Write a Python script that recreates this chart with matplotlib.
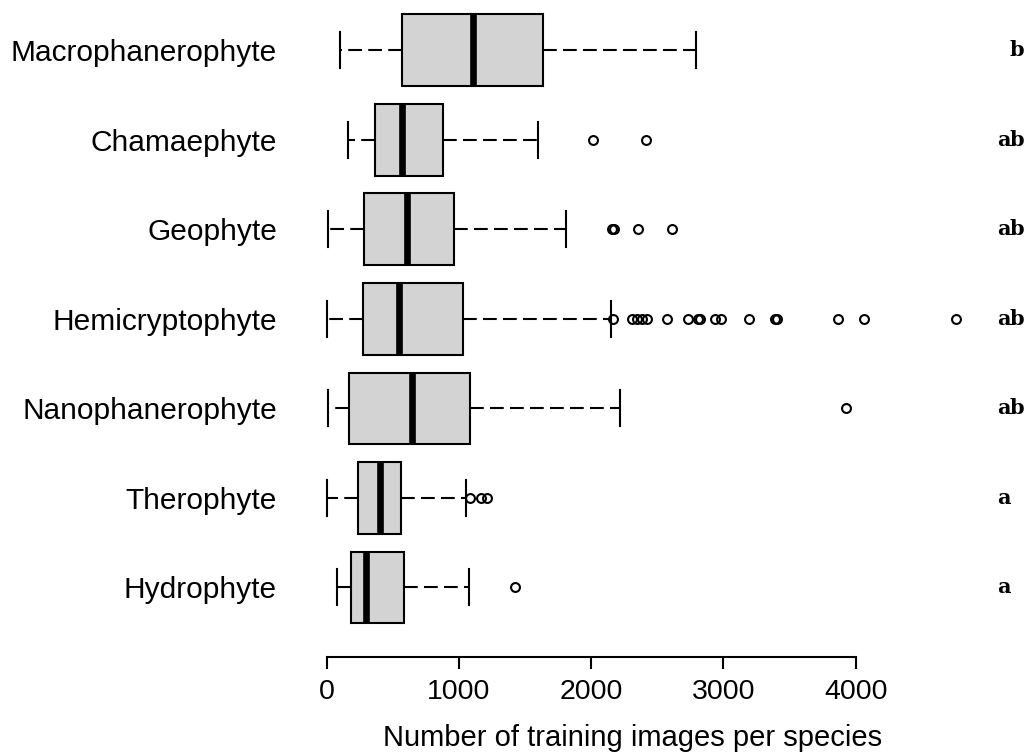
import matplotlib
matplotlib.use("Agg")
import matplotlib.pyplot as plt
import matplotlib.transforms as mtransforms

# Summary statistics per life form
CATEGORIES = ["Macrophanerophyte", "Chamaephyte", "Geophyte", "Hemicryptophyte",
              "Nanophanerophyte", "Therophyte", "Hydrophyte"]
WHISLO = [101, 159, 10, 2, 10, 2, 76]
Q1 = [567, 367, 284, 272, 171, 234, 184]
MEDIAN = [1104, 567, 607, 544, 643, 405, 295]
Q3 = [1633, 877, 965, 1031, 1084, 564, 587]
WHISHI = [2790, 1598, 1812, 2152, 2218, 1051, 1076]

FLIERS_MACRO = []
FLIERS_CHAMAE = [2011, 2412]
FLIERS_GEO = [2155, 2170, 2354, 2613]
FLIERS_HEMI = [2163, 2306, 2344, 2382, 2420, 2575, 2730, 2805, 2825, 2936, 2981,
               3193, 3390, 3405, 3864, 4066, 4762]
FLIERS_NANO = [3927]
FLIERS_THERO = [1084, 1167, 1210]
FLIERS_HYDRO = [1426]
FLIERS = [FLIERS_MACRO, FLIERS_CHAMAE, FLIERS_GEO, FLIERS_HEMI,
          FLIERS_NANO, FLIERS_THERO, FLIERS_HYDRO]

# significance groups (compact letter display)
LETTERS = ["b", "ab", "ab", "ab", "ab", "a", "a"]
XTICKS = [0, 1000, 2000, 3000, 4000]
XLABEL = "Number of training images per species"

W, H, DPI = 1032, 756, 100
LW = 1.5

plt.rcParams["font.family"] = ["Liberation Sans", "DejaVu Sans"]

fig = plt.figure(figsize=(W / DPI, H / DPI), dpi=DPI)
ax_left, ax_bottom_px = 300, 656.7
ax = fig.add_axes([ax_left / W, (H - ax_bottom_px) / H, (W - ax_left) / W, ax_bottom_px / H])

n = len(CATEGORIES)
positions = list(range(n, 0, -1))

stats = []
for i, name in enumerate(CATEGORIES):
    stats.append(dict(label=name, whislo=WHISLO[i], q1=Q1[i], med=MEDIAN[i],
                      q3=Q3[i], whishi=WHISHI[i], fliers=FLIERS[i]))

ax.bxp(stats, positions=positions, widths=0.8, capwidths=0.4,
       orientation="horizontal", patch_artist=True, showfliers=True,
       boxprops=dict(facecolor="#d3d3d3", edgecolor="black", linewidth=LW),
       whiskerprops=dict(color="black", linewidth=LW, linestyle=(0, (6.6, 3.0))),
       capprops=dict(color="black", linewidth=LW),
       medianprops=dict(color="black", linewidth=4.8, solid_capstyle="butt"),
       flierprops=dict(marker="o", markerfacecolor="none", markeredgecolor="black",
                       markersize=6.4, markeredgewidth=LW, linestyle="none"))

x_per_px = 1 / 0.13225
ax.set_xlim((ax_left - 326.7) * x_per_px, (W - 326.7) * x_per_px)
ax.set_ylim(0.2246, 7.562)

for s in ["top", "right", "left"]:
    ax.spines[s].set_visible(False)
ax.spines["bottom"].set_bounds(XTICKS[0], XTICKS[-1])
ax.spines["bottom"].set_linewidth(LW)

ax.set_xticks(XTICKS)
ax.set_xticklabels([str(t) for t in XTICKS])
ax.tick_params(axis="x", length=8.6, width=LW, pad=7.5, labelsize=20.5)
ax.set_yticks(positions)
ax.set_yticklabels(CATEGORIES)
ax.tick_params(axis="y", length=0, pad=(ax_left - 277) / 1.389, labelsize=21.5)

ax.set_xlabel(XLABEL, fontsize=21)
ax.xaxis.label.set_va("baseline")
ax.xaxis.set_label_coords((633 - ax_left) / (W - ax_left), (ax_bottom_px - 746) / ax_bottom_px)

# letters at the right margin, one fixed column per group letter
trans = mtransforms.blended_transform_factory(fig.transFigure, ax.transData)
col_x = {"a": 1003.5 / W, "b": 1017.0 / W}
for y, lab in zip(positions, LETTERS):
    for c in lab:
        ax.text(col_x[c], y, c, transform=trans, ha="center", va="center",
                family="DejaVu Serif", fontweight="bold", fontsize=15)

fig.savefig("out.png", dpi=DPI)
